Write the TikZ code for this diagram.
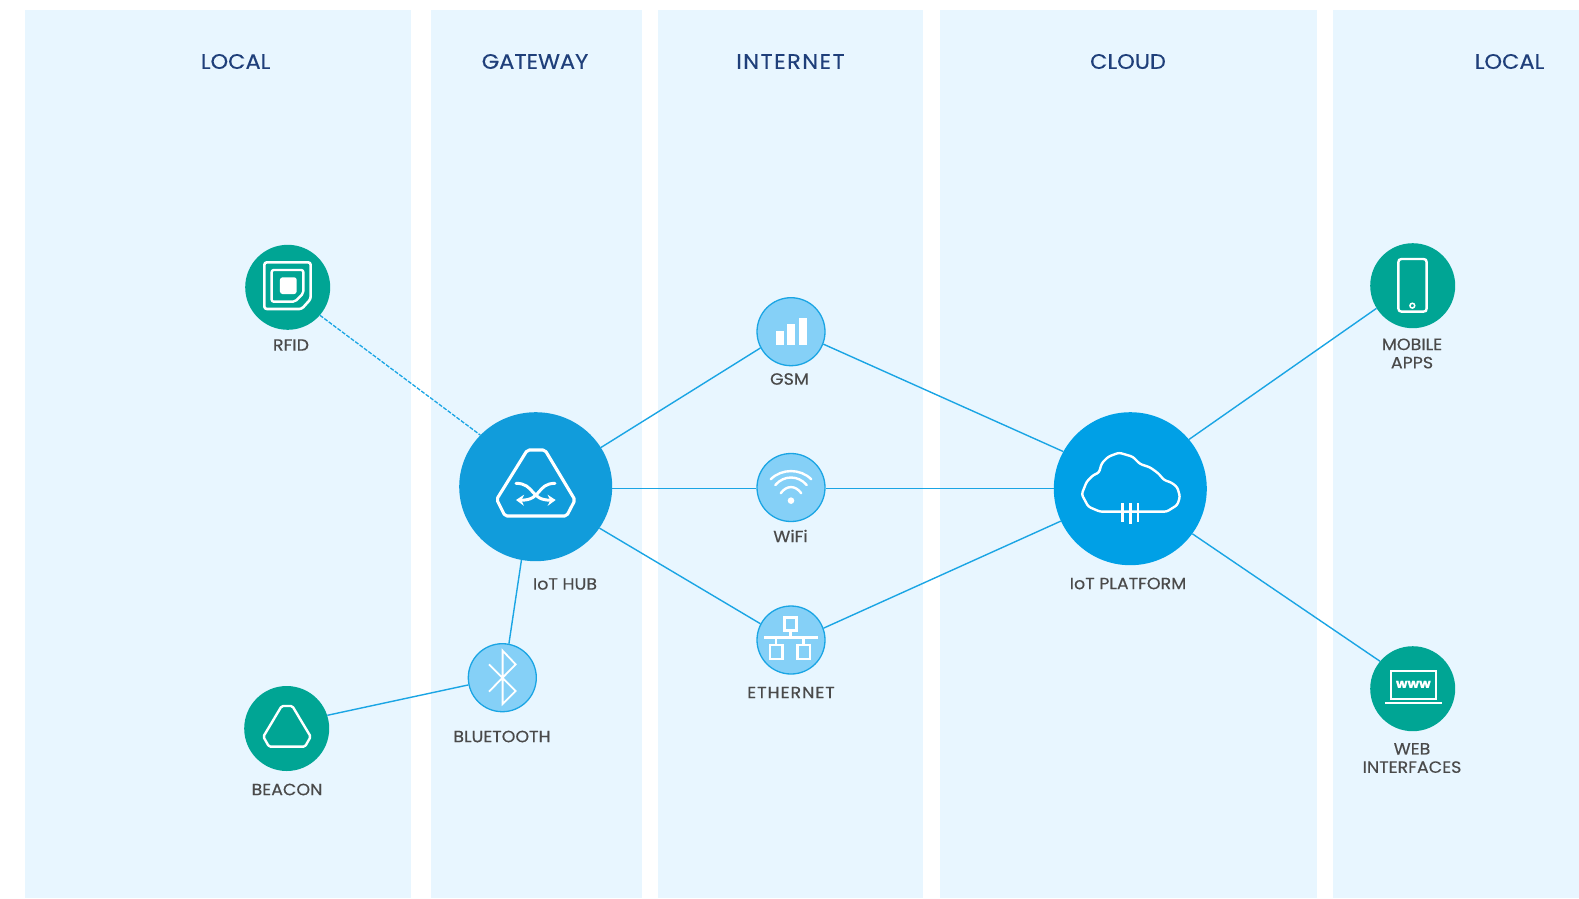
\documentclass[tikz,border=0pt]{standalone}
\usepackage{fontspec}
\setmainfont{Poppins}[FakeStretch=1.07,FakeBold=0.35]
\usetikzlibrary{arrows.meta,shapes.geometric}
\definecolor{panelc}{HTML}{E8F6FF}
\definecolor{tealc}{HTML}{00A594}
\definecolor{hubc}{HTML}{119CDB}
\definecolor{cloudc}{HTML}{00A0E6}
\definecolor{smallc}{HTML}{85D0F7}
\definecolor{linec}{HTML}{1AA5E4}
\definecolor{titlec}{HTML}{1F3F7A}
\definecolor{labelc}{HTML}{4A4A4A}
\tikzset{
  panel/.style={fill=panelc,draw=none},
  paneltitle/.style={text=titlec,font=\fontsize{21}{24}\selectfont,inner sep=0pt,anchor=center},
  lbl/.style={text=labelc,font=\fontsize{16.3}{18.3}\selectfont,inner sep=0pt,align=center,anchor=center},
  teal/.style={circle,fill=tealc,draw=none,minimum size=85pt,inner sep=0pt},
  small/.style={circle,fill=smallc,draw=linec,line width=1.3pt,minimum size=68pt,inner sep=0pt},
  big/.style={circle,draw=none,minimum size=153pt,inner sep=0pt},
  hubshape/.style={ellipse,draw=none,fill=hubc,minimum width=153pt,minimum height=149pt,inner sep=0pt},
  conn/.style={draw=linec,line width=1.4pt},
  dconn/.style={draw=linec,line width=1.3pt,dash pattern=on 4pt off 1.5pt},
  ic/.style={draw=white,line width=2.4pt,line join=round,line cap=round},
  zoomed/.style args={#1/#2}{shift={(#1,#2)},x=0.3333pt,y=-0.3333pt}
}
\begin{document}
\begin{tikzpicture}[x=1pt,y=-1pt]
\useasboundingbox (0,0) rectangle (1579,898);
% panels
\fill[panel] (25.2,10) rectangle (411,898);
\fill[panel] (431,10) rectangle (641.5,898);
\fill[panel] (657.6,10) rectangle (923.4,898);
\fill[panel] (939.5,10) rectangle (1316.5,898);
\fill[panel] (1333,10) rectangle (1579,898);
% titles
\node[paneltitle] (t1) at (235.6,61.5) {LOCAL};
\node[paneltitle] (t2) at (535,61.5) {GATEWAY};
\node[paneltitle] (t3) at (790.5,61.5) {\addfontfeature{LetterSpace=7}INTERNET};
\node[paneltitle] (t4) at (1128,61.5) {CLOUD};
\node[paneltitle] (t5) at (1509.5,61.5) {LOCAL};
% nodes
\node[teal] (rfid) at (287.7,287.3) {};
\node[teal] (beacon) at (286.7,728.5) {};
\node[teal] (mobile) at (1412.7,285.7) {};
\node[teal] (web) at (1412.7,688.7) {};
\node[small] (gsm) at (791,331.7) {};
\node[small] (wifi) at (791,487.5) {};
\node[small] (eth) at (791,640) {};
\node[small] (bt) at (502.3,677.7) {};
\node[hubshape] (hub) at (535.7,486.7) {};
\node[big,fill=cloudc] (cloud) at (1130.3,488.7) {};
% connectors
\draw[dconn] (rfid.-41.6) -- (hub.137.5);
\draw[conn] (hub.31.9) -- (gsm.208.2);
\draw[conn] (hub.east |- cloud) -- (wifi.west |- cloud);
\draw[conn] (hub.-33.8) -- (eth.152.6);
\draw[conn] (hub.259.3) -- (bt.79.9);
\draw[conn] (beacon.18.6) -- (bt.192.1);
\draw[conn] (gsm.-21) -- (cloud.151);
\draw[conn] (wifi.east |- cloud) -- (cloud.west);
\draw[conn] (eth.20.8) -- (cloud.205);
\draw[conn] (cloud.40.7) -- (mobile.212.9);
\draw[conn] (cloud.-36) -- (web.140.3);
% labels
\node[lbl] (lrfid) at (291,345) {RFID};
\node[lbl] (lgsm) at (789.5,379) {GSM};
\node[lbl] (lwifi) at (790.5,536) {WiFi};
\node[lbl] (lhub) at (565,584) {IoT HUB};
\node[lbl] (lbt) at (502,736.5) {BLUETOOTH};
\node[lbl] (lbeacon) at (287,789.5) {BEACON};
\node[lbl] (leth) at (791,692.5) {\addfontfeature{LetterSpace=6}ETHERNET};
\node[lbl] (lcloud) at (1128,583.5) {IoT PLATFORM};
\node[lbl] (lmobile) at (1412,353.5) {MOBILE\\APPS};
\node[lbl] (lweb) at (1412,758) {WEB\\INTERFACES};
% RFID icon
\begin{scope}[zoomed=220/230]
\draw[ic,line width=2.6pt,rounded corners=2.5pt] (133,97) -- (272,97) -- (272,207) -- (245,237) -- (133,237) -- cycle;
\draw[ic,rounded corners=2pt] (155,120) -- (250,120) -- (250,190) -- (225,215) -- (155,215) -- cycle;
\fill[white,rounded corners=2.5pt] (180,142) rectangle (230,192);
\end{scope}
% beacon icon
\begin{scope}[zoomed=240/680]
\draw[ic,rounded corners=1.5pt] (125,78) -- (157,78) -- (212,170) -- (195,200) -- (87,200) -- (70,170) -- cycle;
\end{scope}
% hub icon
\begin{scope}[zoomed=440/400]
\draw[ic,line width=3.1pt,rounded corners=2pt] (262,150) -- (315,150) -- (405,300) -- (380,348) -- (195,348) -- (170,298) -- cycle;
\draw[ic,line width=3pt,-{Stealth[length=8pt,width=11pt]}] (228,250) .. controls (285,250) and (270,302) .. (347,300);
\draw[ic,line width=3pt,-{Stealth[length=8pt,width=11pt]}] (345,250) .. controls (290,250) and (305,302) .. (228,300);
\end{scope}
% bluetooth icon
\begin{scope}[zoomed=230/630]
\draw[ic,line width=1.8pt,line cap=butt,line join=miter] (777,103) -- (857,183) -- (818,222) -- (818,62) -- (857,103) -- (777,185);
\end{scope}
% GSM, WiFi icons
\begin{scope}[zoomed=740/285]
\fill[white] (107,138) rectangle (132,180);
\fill[white] (140,118) rectangle (165,180);
\fill[white] (176,98) rectangle (200,180);
\draw[ic] (92,583) .. controls (125,550) and (181,550) .. (214,583);
\draw[ic] (106,600) .. controls (132,570) and (174,570) .. (200,600);
\draw[ic] (122,625) .. controls (140,600) and (166,600) .. (184,625);
\fill[white] (153,647) circle[radius=3.3pt];
\end{scope}
% ethernet icon
\begin{scope}[zoomed=740/590]
\draw[ic,line cap=butt,line join=miter] (133,82) rectangle (170,122);
\draw[ic,line cap=butt,line join=miter] (90,165) rectangle (128,207);
\draw[ic,line cap=butt,line join=miter] (172,165) rectangle (210,207);
\draw[ic,line cap=butt] (152,122) -- (152,143) (72,143) -- (235,143) (108,143) -- (108,165) (190,143) -- (190,165);
\end{scope}
% cloud icon
\begin{scope}[zoomed=1040/400]
\draw[ic,rounded corners=2.5pt] (125,283) -- (140,245) -- (160,225) -- (177,218) -- (185,190) -- (205,170) -- (237,158) -- (278,170) -- (300,192) -- (330,202) -- (355,220) -- (372,240) -- (395,248) -- (412,262) -- (420,290) -- (412,315) -- (380,335) -- (180,335) -- (145,320) -- cycle;
\draw[ic,line cap=butt] (248,310) -- (248,365) (271,310) -- (271,373) (294,310) -- (294,365);
\end{scope}
% phone icon
\begin{scope}[zoomed=1350/235]
\draw[ic] (145,82) .. controls (145,75) and (148,72) .. (155,72) -- (220,72) .. controls (227,72) and (230,75) .. (230,82) -- (230,220) .. controls (230,227) and (227,230) .. (220,230) -- (155,230) .. controls (148,230) and (145,227) .. (145,220) -- cycle;
\draw[white,line width=1.5pt] (187,212) circle[radius=2.4pt];
\end{scope}
% web icon
\begin{scope}[zoomed=1350/635]
\draw[ic,line width=1.8pt,line cap=butt,line join=miter] (123,107) rectangle (257,193);
\draw[ic,line width=1.8pt,line cap=butt] (105,205) -- (275,205);
\node[text=white,font=\fontsize{12.5}{14}\selectfont,inner sep=0pt] (www) at (190,148) {\bfseries www};
\end{scope}
\end{tikzpicture}
\end{document}
